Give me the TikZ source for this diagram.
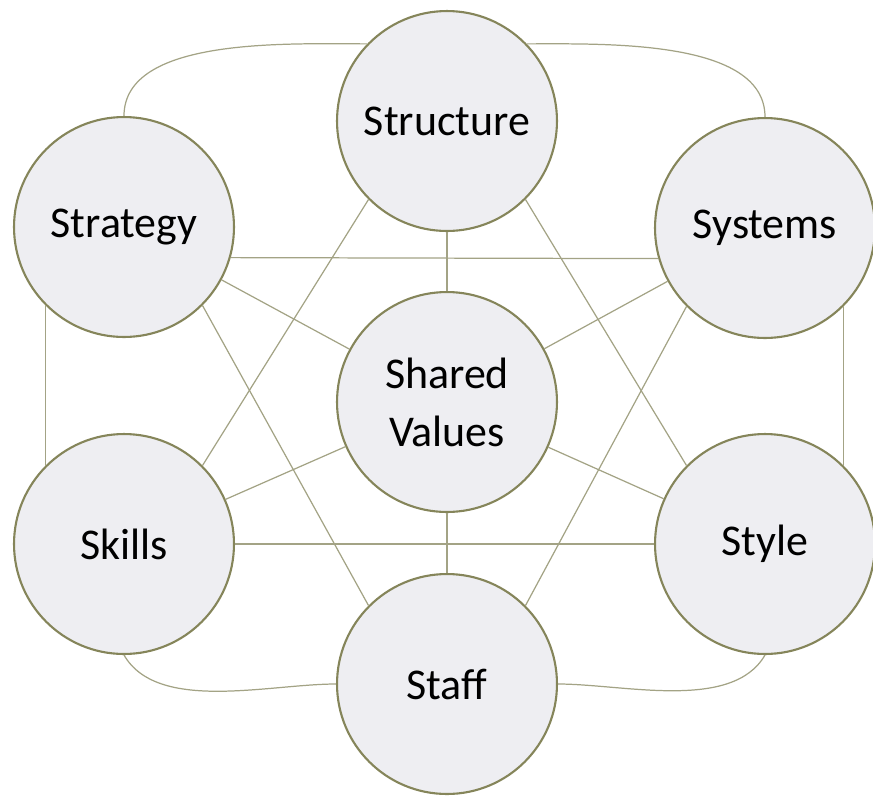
\documentclass[tikz,border=0pt]{standalone}
\usepackage{fontspec}
\setmainfont{Carlito}
\definecolor{rimolive}{HTML}{85855A}
\definecolor{linkolive}{HTML}{A3A385}
\definecolor{discfill}{HTML}{EEEEF2}

\tikzstyle{element} = [circle,draw=rimolive,line width=1.2pt,fill=discfill,minimum size=4.4cm,inner sep=0pt,align=center,font=\fontsize{25}{33}\selectfont]
\tikzstyle{link} = [draw=linkolive,line width=0.7pt]

\begin{document}
\begin{tikzpicture}[x=0.02cm,y=-0.02cm]
	\useasboundingbox (0,0) rectangle (873,796);
	\node[element] (structure) at (447,121) {Structure};
	\node[element] (strategy) at (124,227) {Strategy};
	\node[element] (systems) at (765,228) {Systems};
	\node[element] (shared) at (447,402) {Shared\\Values};
	\node[element] (skills) at (124,544) {Skills};
	\node[element] (style) at (765,544) {Style};
	\node[element] (staff) at (447,684) {Staff};
	
	% outer ring
	\draw[link] (strategy.north) to[out=90,in=180,looseness=0.8] (structure.136);
	\draw[link] (structure.44) to[out=0,in=90,looseness=0.8] (systems.north);
	\draw[link] (strategy.225) -- (skills.135);
	\draw[link] (systems.315) -- (style.45);
	\draw[link] (skills.south) to[out=-60,in=180,looseness=0.8] (staff.west);
	\draw[link] (staff.east) to[out=0,in=-120,looseness=0.8] (style.south);
	
	% straight links
	\draw[link] (strategy.-16) -- (systems.196);
	\draw[link] (skills) -- (style);
	\draw[link] (structure) -- (shared);
	\draw[link] (shared) -- (staff);
	\draw[link] (strategy) -- (shared);
	\draw[link] (systems) -- (shared);
	\draw[link] (skills) -- (shared);
	\draw[link] (style) -- (shared);
	\draw[link] (structure.225) -- (skills.45);
	\draw[link] (structure.315) -- (style.135);
	\draw[link] (strategy.315) -- (staff.135);
	\draw[link] (systems.225) -- (staff.45);
\end{tikzpicture}
\end{document}
